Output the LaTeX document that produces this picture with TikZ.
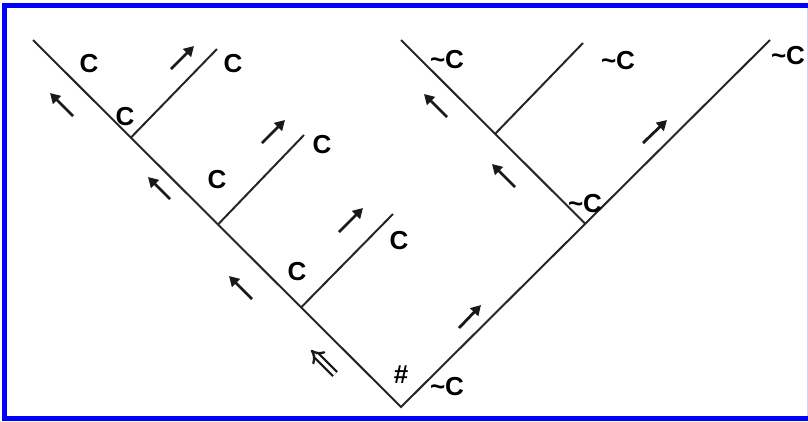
\documentclass[tikz,border=0pt]{standalone}
\usepackage{fontspec}
\setmainfont{Liberation Sans}
\usetikzlibrary{arrows.meta}
\begin{document}
\begin{tikzpicture}[x=1pt,y=-1pt,
  lbl/.style={font=\bfseries\fontsize{26}{26}\selectfont, inner sep=0pt, anchor=center, text=black},
  edge/.style={line width=2pt, black!85},
  arr/.style={line width=2.8pt, black!90, -{Triangle[length=10pt,width=11pt]}},
  dbl/.style={line width=2.3pt, black!90, double distance=3.5pt, -{Implies}}]
\useasboundingbox (0,0) rectangle (808,421);
% frame
\fill[blue] (2,3) rectangle (808,8);
\fill[blue] (2,416) rectangle (808,421);
\fill[blue] (2,3) rectangle (7,421);
\draw[blue!18, line width=1pt] (807,8) -- (807,416);
% tree coordinates
\coordinate (root) at (401,407);
\coordinate (Ltop) at (33,40);
\coordinate (Rtop) at (770,40);
\coordinate (J1) at (131,137.5);
\coordinate (J2) at (218,224.5);
\coordinate (J3) at (301,307.5);
\coordinate (E1) at (217,49);
\coordinate (E2) at (304,135);
\coordinate (E3) at (393,214);
\coordinate (Stop) at (401,40);
\coordinate (K) at (585,223.5);
\coordinate (J4) at (495,134);
\coordinate (E4) at (583,43);
% tree
\draw[edge] (Ltop) -- (root) -- (Rtop);
\draw[edge] (J1) -- (E1);
\draw[edge] (J2) -- (E2);
\draw[edge] (J3) -- (E3);
\draw[edge] (Stop) -- (K);
\draw[edge] (J4) -- (E4);
% labels
\node[lbl] (c1) at (89,64) {C};
\node[lbl] (c2) at (233,64) {C};
\node[lbl] (c3) at (125,117) {C};
\node[lbl] (c4) at (217,180) {C};
\node[lbl] (c5) at (322,145) {C};
\node[lbl] (c6) at (297,272) {C};
\node[lbl] (c7) at (399,241) {C};
\node[lbl] (hash) at (401,375) {\#};
\node[lbl] (n1) at (447,387) {\char`\~C};
\node[lbl] (n2) at (447,60) {\char`\~C};
\node[lbl] (n3) at (618,61) {\char`\~C};
\node[lbl] (n4) at (788,56) {\char`\~C};
\node[lbl] (n5) at (585,204) {\char`\~C};
% arrows (tail, head)
\coordinate (a1t) at (73,116); \coordinate (a1h) at (50,93);
\coordinate (a2t) at (170,199); \coordinate (a2h) at (148,177);
\coordinate (a3t) at (252,299); \coordinate (a3h) at (229,276);
\coordinate (a4t) at (447,117); \coordinate (a4h) at (424,94);
\coordinate (a5t) at (515,187); \coordinate (a5h) at (492,164);
\coordinate (b1t) at (171,69); \coordinate (b1h) at (194,46);
\coordinate (b2t) at (262,143); \coordinate (b2h) at (285,120);
\coordinate (b3t) at (339,232); \coordinate (b3h) at (363,208);
\coordinate (b4t) at (459,328); \coordinate (b4h) at (481,305);
\coordinate (b5t) at (643,143); \coordinate (b5h) at (667,120);
\coordinate (dt) at (335,374); \coordinate (dh) at (311,350);
\draw[arr] (a1t) -- (a1h);
\draw[arr] (a2t) -- (a2h);
\draw[arr] (a3t) -- (a3h);
\draw[arr] (a4t) -- (a4h);
\draw[arr] (a5t) -- (a5h);
\draw[arr] (b1t) -- (b1h);
\draw[arr] (b2t) -- (b2h);
\draw[arr] (b3t) -- (b3h);
\draw[arr] (b4t) -- (b4h);
\draw[arr] (b5t) -- (b5h);
\draw[dbl] (dt) -- (dh);
\end{tikzpicture}
\end{document}
